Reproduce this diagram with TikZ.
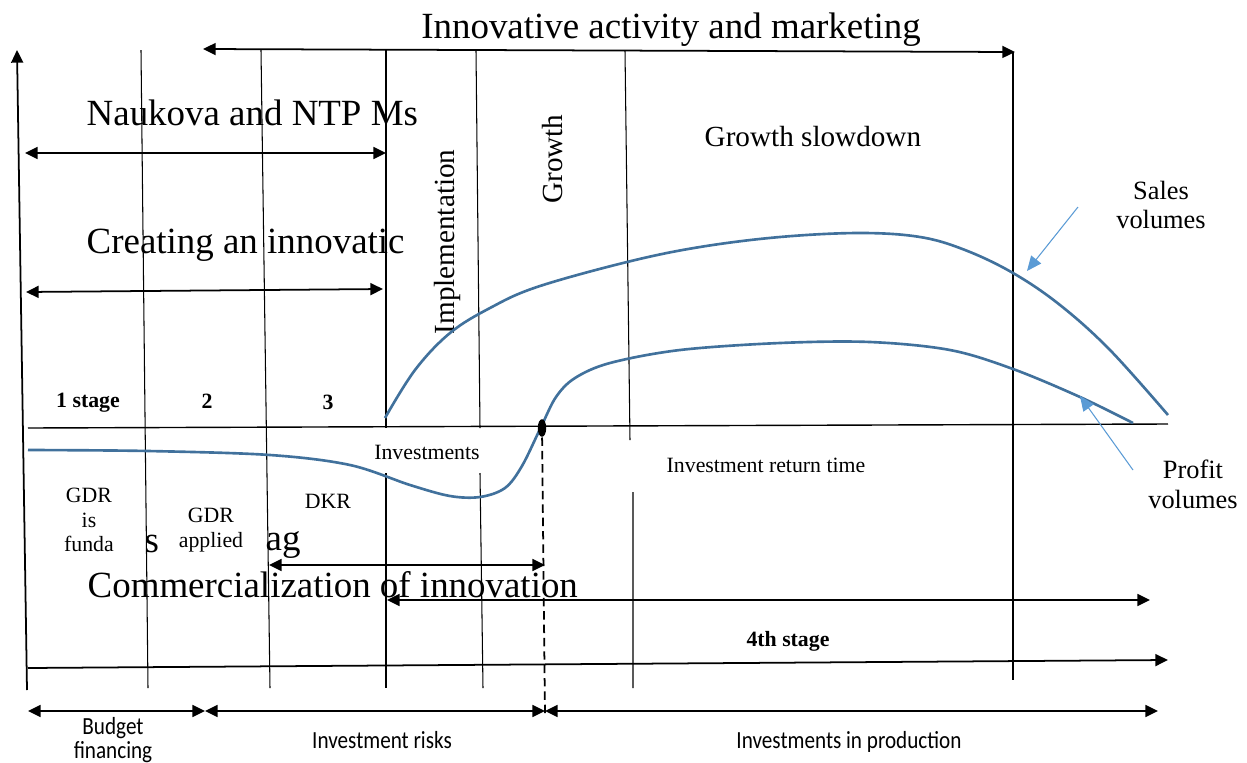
\documentclass[tikz,border=0pt]{standalone}
\usepackage{fontspec}
\setmainfont{Liberation Serif}
\newfontfamily\labelfont[FakeStretch=0.86]{Carlito}
\usepackage{tikz}
\usetikzlibrary{arrows.meta,shapes.geometric}
\definecolor{curveblue}{RGB}{65,113,156}
\definecolor{pointerblue}{RGB}{91,155,213}
\tikzset{
  grid line/.style={line width=0.3pt},
  span/.style={{Triangle[length=3.6pt,width=3.4pt]}-{Triangle[length=3.6pt,width=3.4pt]},line width=0.5pt},
  axis/.style={-{Triangle[length=3.6pt,width=3.4pt]},line width=0.5pt},
  curve/.style={curveblue,line width=0.75pt},
  pointer/.style={pointerblue,line width=0.3pt,-{Triangle[length=4.2pt,width=3.6pt]}},
  dot/.style={ellipse,fill,inner sep=0pt,minimum width=2.4pt,minimum height=5pt},
  every node/.style={inner sep=0pt},
  big/.style={font=\fontsize{10.5}{12}\selectfont},
  mid/.style={font=\fontsize{8.3}{10}\selectfont},
  small/.style={font=\fontsize{6.2}{7}\selectfont,align=center},
  side/.style={font=\fontsize{7.5}{8.5}\selectfont,align=center},
  stagelbl/.style={font=\fontsize{6.2}{7}\selectfont\bfseries},
  money/.style={font=\labelfont\fontsize{7}{6.8}\selectfont,align=center}
}

\begin{document}
\begin{tikzpicture}[x=0.01cm,y=-0.01cm]
  \useasboundingbox (0,0) rectangle (1247,763);

  % stage boundaries
  \draw[axis] (27,690) -- (17,50);
  \draw[grid line] (141,50) -- (148,688);
  \draw[grid line] (261,50) -- (270,688);
  \draw[grid line] (386,50) -- (386,428) (386,473) -- (386,688);
  \draw[grid line] (476,50) -- (480,428) (480,473) -- (483,688);
  \draw[grid line] (625,50) -- (630,440) (633,492) -- (633,688);
  \draw[grid line] (1013,52) -- (1013,680);
  \draw[line width=0.4pt] (28,428) -- (1168,424);

  % spans above the axis
  \coordinate (mk-l) at (203,49);
  \coordinate (mk-r) at (1015,52);
  \coordinate (nt-l) at (25,153);
  \coordinate (nt-r) at (386,153);
  \coordinate (cr-l) at (26,292);
  \coordinate (cr-r) at (383,289);
  \draw[span] (mk-l) -- (mk-r);
  \draw[span] (nt-l) -- (nt-r);
  \draw[span] (cr-l) -- (cr-r);
  \node[big,anchor=base] (mk) at (671,38) {Innovative activity and marketing};
  \node[big,anchor=base west] (nt) at (86,125) {Naukova and NTP Ms};
  \node[big,anchor=base west] (cr) at (86,253) {Creating an innovatic};
  \node[mid,anchor=base,rotate=90] (impl) at (454,242) {Implementation};
  \node[mid,anchor=base,rotate=90] (grow) at (563,159) {Growth};
  \node[mid,anchor=base west] (slow) at (704,146) {Growth slowdown};

  % sales and profit curves
  \draw[curve] plot[smooth,tension=0.6] coordinates {(385,418) (415,370) (450,333)
    (490,308) (537,287) (627,262) (700,247) (780,237) (860,233) (920,237)
    (965,250) (1013,273) (1060,305) (1110,350) (1168,415)};
  \draw[curve] plot[smooth,tension=0.55] coordinates {(28,450) (148,451) (270,455)
    (350,465) (410,485) (450,496) (480,497) (505,488) (522,466) (541,427)
    (556,397) (575,378) (610,363) (680,350) (780,343) (870,342) (950,350)
    (1013,369) (1080,397) (1133,423)};
  \node[dot] (payback) at (542,428) {};

  \node[side] (sales) at (1161,205) {Sales\\volumes};
  \node[side] (profit) at (1193,484) {Profit\\volumes};
  \coordinate (sales-t) at (1078,207);
  \coordinate (sales-h) at (1027,271);
  \coordinate (profit-t) at (1133,470);
  \coordinate (profit-h) at (1080,396);
  \draw[pointer] (sales-t) -- (sales-h);
  \draw[pointer] (profit-t) -- (profit-h);

  % stage labels
  \node[stagelbl,anchor=base] (s1) at (88,407) {1 stage};
  \node[stagelbl,anchor=base] (s2) at (207,408) {2};
  \node[stagelbl,anchor=base] (s3) at (328,409) {3};
  \node[stagelbl,anchor=base] (s4) at (788,646) {4th stage};
  \node[small,anchor=base] (inv) at (427,459) {Investments};
  \node[small,anchor=base] (ret) at (766,472) {Investment return time};
  \node[small] (gdr1) at (89,520) {GDR\\is\\funda};
  \node[small] (gdr2) at (211,530) {GDR\\applied};
  \node[small,anchor=base] (dkr) at (328,508) {DKR};
  \node[big,anchor=base west] (frag1) at (144,552) {s};
  \node[big,anchor=base west] (frag2) at (265,550) {ag};

  % spans below the axis
  \coordinate (cm-l) at (269,565);
  \coordinate (cm-r) at (545,565);
  \coordinate (pr-l) at (387,600);
  \coordinate (pr-r) at (1150,600);
  \draw[span] (cm-l) -- (cm-r);
  \draw[span] (pr-l) -- (pr-r);
  \node[big,anchor=base west] (comm) at (87,597) {Commercialization of innovation};
  \draw[axis] (28,668) -- (1168,660);

  % financing spans
  \coordinate (f0) at (28,711);
  \coordinate (f1) at (205,711);
  \coordinate (f2) at (545,711);
  \coordinate (f3) at (1158,711);
  \draw[line width=0.5pt,dash pattern=on 2.4pt off 1.4pt] (payback) -- (545,716);
  \draw[span] (f0) -- (f1);
  \draw[span] (f1) -- (f2);
  \draw[span] (f2) -- (f3);
  \node[money,anchor=north] (budget) at (113,717) {Budget\\financing};
  \node[money,anchor=base] (risk) at (382,748) {Investment risks};
  \node[money,anchor=base] (prod) at (849,748) {Investments in production};
\end{tikzpicture}
\end{document}
